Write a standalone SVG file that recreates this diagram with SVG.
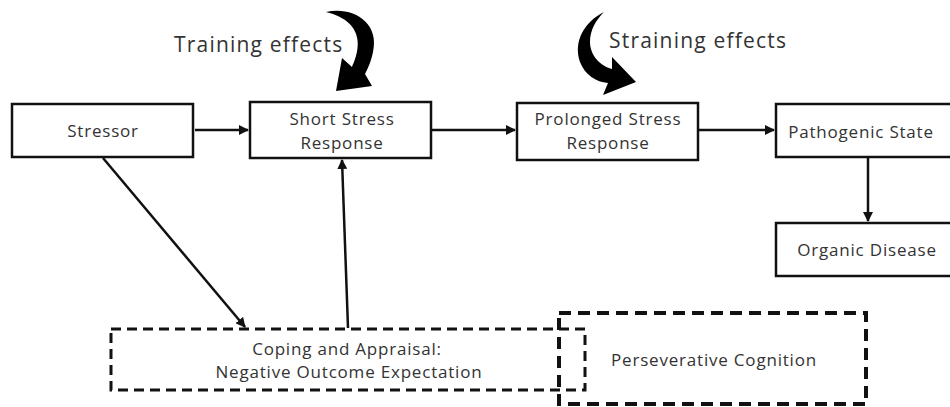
<svg xmlns="http://www.w3.org/2000/svg" width="950" height="407" viewBox="0 0 950 407">
<defs>
<marker id="ah" markerWidth="10" markerHeight="10" refX="9" refY="5" orient="auto" markerUnits="userSpaceOnUse">
<path d="M0,0 L10,5 L0,10 Z" fill="#111"/>
</marker>
</defs>
<style>
.box{fill:#fff;stroke:#111;stroke-width:2.5}
.dash1{fill:none;stroke:#111;stroke-width:3;stroke-dasharray:10 6}
.dash2{fill:none;stroke:#111;stroke-width:4;stroke-dasharray:12 7}
.t{font-family:"Open Sans","Liberation Sans",sans-serif;font-size:17px;letter-spacing:0.8px;fill:#333;text-anchor:middle}
.lbl{font-family:"Open Sans","Liberation Sans",sans-serif;font-size:21px;letter-spacing:1.2px;fill:#333}
.c{fill:none;stroke:#111;stroke-width:2.5}
</style>
<rect width="950" height="407" fill="#fff"/>
<g id="stressor"><rect class="box" x="12" y="104" width="181" height="53"/><text class="t" x="103" y="137">Stressor</text></g>
<g id="short"><rect class="box" x="250" y="102" width="181" height="56"/><text class="t" x="342" y="125">Short Stress</text><text class="t" x="342" y="149">Response</text></g>
<g id="prolonged"><rect class="box" x="517" y="103" width="181" height="57"/><text class="t" x="608" y="125">Prolonged Stress</text><text class="t" x="608" y="149">Response</text></g>
<g id="pathogenic"><rect class="box" x="776" y="104" width="185" height="53"/><text class="t" x="861" y="138">Pathogenic State</text></g>
<g id="organic"><rect class="box" x="776" y="223" width="185" height="53"/><text class="t" x="867" y="256">Organic Disease</text></g>
<g id="coping"><rect class="dash1" x="111" y="329" width="474" height="61"/><text class="t" x="347" y="355">Coping and Appraisal:</text><text class="t" x="349" y="378">Negative Outcome Expectation</text></g>
<g id="perseverative"><rect class="dash2" x="559" y="313" width="307" height="91"/><text class="t" x="714" y="366">Perseverative Cognition</text></g>
<g id="training"><text class="lbl" x="174" y="52">Training effects</text>
<path d="M326,12 C352,6 380,22 373,52 C371,62 368,68 365,74 L372,86 L336,91 L342,58 L352,67 C360,50 366,22 326,12 Z" fill="#000"/></g>
<g id="straining"><text class="lbl" x="609" y="48">Straining effects</text>
<path d="M604,12 C584,22 573,42 580,62 C585,75 596,82 608,83 L603,95 L636,82 L612,57 L612,69 C600,66 590,55 590,42 C590,30 596,20 604,12 Z" fill="#000"/></g>
<g id="connectors">
<line class="c" x1="195" y1="130" x2="248" y2="130" marker-end="url(#ah)"/>
<line class="c" x1="432" y1="130" x2="515" y2="130" marker-end="url(#ah)"/>
<line class="c" x1="699" y1="130" x2="774" y2="130" marker-end="url(#ah)"/>
<line class="c" x1="868" y1="158" x2="868" y2="221" marker-end="url(#ah)"/>
<line class="c" x1="103" y1="158" x2="245" y2="327" marker-end="url(#ah)"/>
<line class="c" x1="348" y1="328" x2="342" y2="160" marker-end="url(#ah)"/>
</g>
</svg>
